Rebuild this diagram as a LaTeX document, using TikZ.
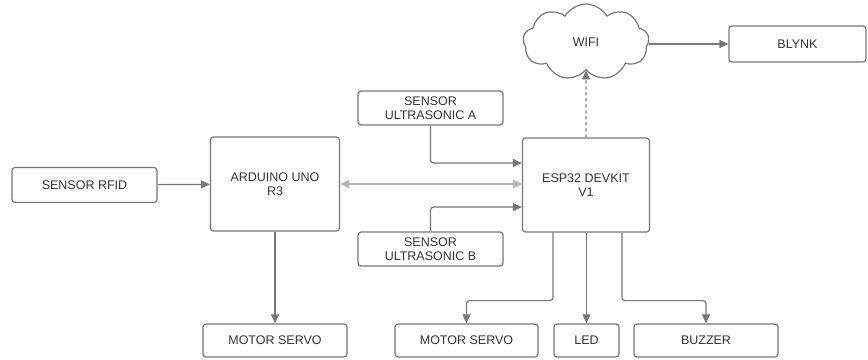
\documentclass[tikz,border=0pt]{standalone}
\usepackage{fontspec}
\setmainfont{Liberation Sans}
\usetikzlibrary{shapes.symbols,arrows.meta}
\definecolor{edgegray}{HTML}{777777}
\definecolor{lightgray}{HTML}{B4B4B4}
\definecolor{textgray}{HTML}{333333}
\tikzstyle{block}=[draw=edgegray, line width=1.2pt, rounded corners=3pt, align=center, text=textgray, font=\fontsize{12.5}{14}\selectfont, inner sep=0pt]
\tikzstyle{link}=[draw=edgegray, line width=1.2pt, rounded corners=3pt, -{Triangle[length=9pt,width=8pt]}]

\begin{document}
\begin{tikzpicture}[x=1pt, y=-1pt]
\useasboundingbox (0,0) rectangle (868,359);
% Blocks
    \node[block, minimum width=145pt, minimum height=35pt] (rfid) at (84.5,185) {SENSOR RFID};
    \node[block, minimum width=129pt, minimum height=94pt] (arduino) at (275,184) {ARDUINO UNO\\R3};
    \node[block, minimum width=127pt, minimum height=94pt] (esp) at (586,185) {ESP32 DEVKIT\\V1};
    \node[block, minimum width=145pt, minimum height=34pt] (usa) at (430.5,108) {SENSOR\\ULTRASONIC A};
    \node[block, minimum width=145pt, minimum height=34pt] (usb) at (430.5,249) {SENSOR\\ULTRASONIC B};
    \node[block, minimum width=137pt, minimum height=36pt] (blynk) at (797.5,44) {BLYNK};
    \node[block, minimum width=144pt, minimum height=33pt] (servoa) at (275,340.5) {MOTOR SERVO};
    \node[block, minimum width=143pt, minimum height=33pt] (servob) at (466.5,340.5) {MOTOR SERVO};
    \node[block, minimum width=65pt, minimum height=33pt] (led) at (586.5,340.5) {LED};
    \node[block, minimum width=144pt, minimum height=33pt] (buzzer) at (706,340.5) {BUZZER};
% Cloud
    \node[block, cloud, cloud puffs=9, cloud puff arc=120, aspect=1.6, minimum width=126pt, minimum height=76pt, rounded corners=0pt] (wifi) at (586,42) {WIFI};
% Links
    \draw[link] (rfid) -- (arduino);
    \draw[link, draw=lightgray, {Triangle[length=9pt,width=8pt]}-{Triangle[length=9pt,width=8pt]}] (arduino.east) -- (arduino.east -| esp.west);
    \draw[link] (usa.south) |- ([yshift=22pt]esp.west);
    \draw[link] (usb.north) |- ([yshift=-22pt]esp.west);
    \draw[link, dashed] (esp.north) -- (wifi.south);
    \draw[link] (wifi.east |- blynk.west) -- (blynk.west);
    \draw[link] (arduino) -- (servoa);
    \draw[link] ([xshift=-33pt]esp.south) -- ++(0,68) -| (servob.north);
    \draw[link] (led.north |- esp.south) -- (led.north);
    \draw[link] ([xshift=36pt]esp.south) -- ++(0,68) -| (buzzer.north);
\end{tikzpicture}
\end{document}
